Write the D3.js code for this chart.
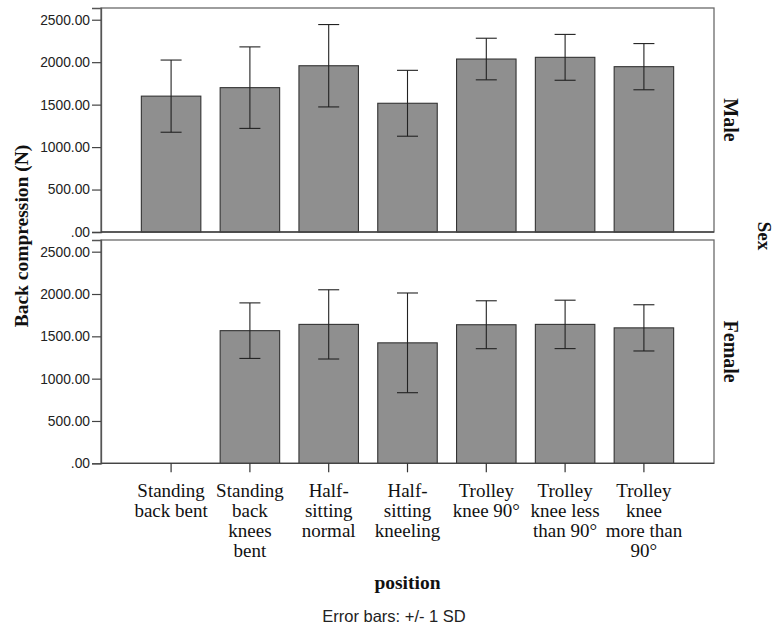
<!DOCTYPE html>
<html>
<head>
<meta charset="utf-8">
<script src="https://cdn.jsdelivr.net/npm/d3@7"></script>
<style>
  html, body { margin: 0; padding: 0; background: #fff; }
  svg { display: block; }
</style>
</head>
<body>
<svg id="chart" width="774" height="634"></svg>
<script>
// ---- data ----
const categories = [
  "Standing back bent",
  "Standing back knees bent",
  "Half-sitting normal",
  "Half-sitting kneeling",
  "Trolley knee 90°",
  "Trolley knee less than 90°",
  "Trolley knee more than 90°"
];
const tickLabelLines = [
  ["Standing", "back bent"],
  ["Standing", "back", "knees", "bent"],
  ["Half-", "sitting", "normal"],
  ["Half-", "sitting", "kneeling"],
  ["Trolley", "knee 90°"],
  ["Trolley", "knee less", "than 90°"],
  ["Trolley", "knee", "more than", "90°"]
];
const panels = ["Male", "Female"];
const maleMean   = [1600, 1700, 1958, 1516, 2037, 2057, 1947];
const maleSD     = [425, 480, 485, 388, 245, 270, 272];
const femaleMean = [null, 1567, 1641, 1423, 1637, 1641, 1600];
const femaleSD   = [null, 328, 409, 589, 283, 286, 273];
const yTicks = [0, 500, 1000, 1500, 2000, 2500];

// ---- layout ----
const svg = d3.select("#chart");
const left = 101, right = 714;
const panelBoxes = [
  { top: 8, bottom: 232 },
  { top: 240, bottom: 463.3 }
];
const yMax = 2638;
const serif = "'Liberation Serif', 'Times New Roman', serif";
const sans = "'Liberation Sans', Arial, sans-serif";

const x = d3.scaleBand()
  .domain(categories)
  .range([left, right])
  .paddingInner(0.245)
  .paddingOuter(0.512);

const seriesMean = [maleMean, femaleMean];
const seriesSD = [maleSD, femaleSD];

panels.forEach((name, pi) => {
  const box = panelBoxes[pi];
  const y = d3.scaleLinear().domain([0, yMax]).range([box.bottom, box.top]);
  const g = svg.append("g");

  // frame
  g.append("rect")
    .attr("x", left).attr("y", box.top)
    .attr("width", right - left).attr("height", box.bottom - box.top)
    .attr("fill", "#fff").attr("stroke", "#6a6a6a").attr("stroke-width", 1.3);

  const data = categories.map((c, i) => ({ c, m: seriesMean[pi][i], sd: seriesSD[pi][i] }))
    .filter(d => d.m != null);

  // bars
  g.selectAll("rect.bar").data(data).enter().append("rect")
    .attr("class", "bar")
    .attr("x", d => x(d.c))
    .attr("y", d => y(d.m))
    .attr("width", x.bandwidth())
    .attr("height", d => y(0) - y(d.m))
    .attr("fill", "#8f8f8f")
    .attr("stroke", "#333")
    .attr("stroke-width", 1.1);

  // error bars
  const cap = 10.5;
  const eb = g.selectAll("g.eb").data(data).enter().append("g").attr("class", "eb")
    .attr("stroke", "#222").attr("stroke-width", 1.1);
  eb.append("line")
    .attr("x1", d => x(d.c) + x.bandwidth() / 2).attr("x2", d => x(d.c) + x.bandwidth() / 2)
    .attr("y1", d => y(d.m + d.sd)).attr("y2", d => y(d.m - d.sd));
  eb.append("line")
    .attr("x1", d => x(d.c) + x.bandwidth() / 2 - cap).attr("x2", d => x(d.c) + x.bandwidth() / 2 + cap)
    .attr("y1", d => y(d.m + d.sd)).attr("y2", d => y(d.m + d.sd));
  eb.append("line")
    .attr("x1", d => x(d.c) + x.bandwidth() / 2 - cap).attr("x2", d => x(d.c) + x.bandwidth() / 2 + cap)
    .attr("y1", d => y(d.m - d.sd)).attr("y2", d => y(d.m - d.sd));

  // y axis
  const yAxis = d3.axisLeft(y).tickValues(yTicks).tickSize(9).tickPadding(2)
    .tickFormat(v => v === 0 ? ".00" : d3.format(".2f")(v));
  const ya = g.append("g").attr("transform", `translate(${left},0)`).call(yAxis);
  ya.select(".domain").attr("stroke", "#555").attr("stroke-width", 1.3);
  ya.selectAll(".tick line").attr("stroke", "#444").attr("stroke-width", 1.2);
  ya.selectAll(".tick text").attr("font-family", sans).attr("font-size", 13.8).attr("fill", "#222");

  // baseline (zero line)
  g.append("line").attr("x1", left).attr("x2", right)
    .attr("y1", y(0)).attr("y2", y(0)).attr("stroke", "#444").attr("stroke-width", 1.3);

  // panel label
  const cy = (box.top + box.bottom) / 2;
  g.append("text")
    .attr("transform", `translate(724,${cy}) rotate(90)`)
    .attr("text-anchor", "middle")
    .attr("font-family", serif).attr("font-weight", "bold").attr("font-size", 20)
    .attr("fill", "#111")
    .text(name);

  // x axis on bottom panel
  if (pi === panels.length - 1) {
    const xAxis = d3.axisBottom(x).tickSize(9).tickFormat("");
    const xa = g.append("g").attr("transform", `translate(0,${box.bottom})`).call(xAxis);
    xa.select(".domain").remove();
    xa.selectAll(".tick line").attr("stroke", "#333").attr("stroke-width", 1.2);
    xa.selectAll(".tick").each(function(d, i) {
      const t = d3.select(this).append("text")
        .attr("text-anchor", "middle")
        .attr("font-family", serif).attr("font-size", 19).attr("fill", "#111")
        .attr("y", 33.5);
      tickLabelLines[i].forEach((ln, li) => {
        t.append("tspan").attr("x", 0).attr("dy", li === 0 ? 0 : 20).text(ln);
      });
    });
  }
});

// axis titles
svg.append("text")
  .attr("transform", `translate(28,236) rotate(-90)`)
  .attr("text-anchor", "middle")
  .attr("font-family", serif).attr("font-weight", "bold").attr("font-size", 19.5)
  .attr("fill", "#111")
  .text("Back compression (N)");

svg.append("text")
  .attr("transform", `translate(758,236) rotate(90)`)
  .attr("text-anchor", "middle")
  .attr("font-family", serif).attr("font-weight", "bold").attr("font-size", 19)
  .attr("fill", "#111")
  .text("Sex");

svg.append("text")
  .attr("x", (left + right) / 2).attr("y", 589)
  .attr("text-anchor", "middle")
  .attr("font-family", serif).attr("font-weight", "bold").attr("font-size", 19.5)
  .attr("fill", "#111")
  .text("position");

svg.append("text")
  .attr("x", 394).attr("y", 622)
  .attr("text-anchor", "middle")
  .attr("font-family", sans).attr("font-size", 16.5)
  .attr("fill", "#222")
  .text("Error bars: +/- 1 SD");
</script>
</body>
</html>
